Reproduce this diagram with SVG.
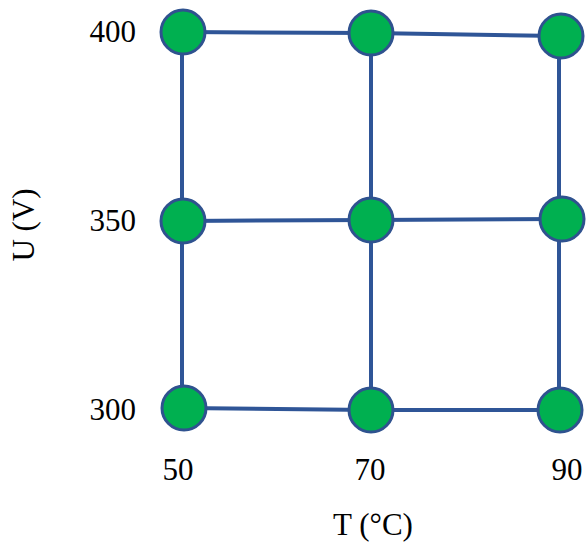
<svg xmlns="http://www.w3.org/2000/svg" width="588" height="546" viewBox="0 0 588 546">
<style>
.e{stroke:#2F5597;stroke-width:4;fill:none}
.n{fill:#00B050;stroke:#2F528F;stroke-width:3}
.t{font-family:"Liberation Serif","Times New Roman",serif;font-size:31px;fill:#000}
</style>
<rect width="588" height="546" fill="#fff"/>
<g id="connectors">
<line class="e" x1="183" y1="32" x2="371" y2="33"/>
<line class="e" x1="371" y1="33" x2="560" y2="36"/>
<line class="e" x1="183" y1="221" x2="371" y2="220"/>
<line class="e" x1="371" y1="220" x2="562" y2="219"/>
<line class="e" x1="183" y1="408" x2="371" y2="410"/>
<line class="e" x1="371" y1="410" x2="560" y2="410"/>
<line class="e" x1="182" y1="32" x2="182" y2="408"/>
<line class="e" x1="371" y1="33" x2="371" y2="410"/>
<line class="e" x1="559" y1="36" x2="559" y2="410"/>
</g>
<g id="n1"><circle class="n" cx="183" cy="32" r="22"/></g>
<g id="n2"><circle class="n" cx="371" cy="33" r="22"/></g>
<g id="n3"><circle class="n" cx="561" cy="36" r="22"/></g>
<g id="n4"><circle class="n" cx="183" cy="221" r="22"/></g>
<g id="n5"><circle class="n" cx="371" cy="220" r="22"/></g>
<g id="n6"><circle class="n" cx="562" cy="219" r="22"/></g>
<g id="n7"><circle class="n" cx="184" cy="408" r="22"/></g>
<g id="n8"><circle class="n" cx="371" cy="410" r="22"/></g>
<g id="n9"><circle class="n" cx="560" cy="410" r="22"/></g>
<g id="labels">
<text class="t" x="136" y="42" text-anchor="end">400</text>
<text class="t" x="136" y="231" text-anchor="end">350</text>
<text class="t" x="136" y="420" text-anchor="end">300</text>
<text class="t" x="178" y="480" text-anchor="middle">50</text>
<text class="t" x="370" y="480" text-anchor="middle">70</text>
<text class="t" x="567" y="480" text-anchor="middle">90</text>
<text class="t" x="373" y="535" text-anchor="middle">T (°C)</text>
<text class="t" transform="translate(34,225) rotate(-90)" text-anchor="middle">U (V)</text>
</g>
</svg>
